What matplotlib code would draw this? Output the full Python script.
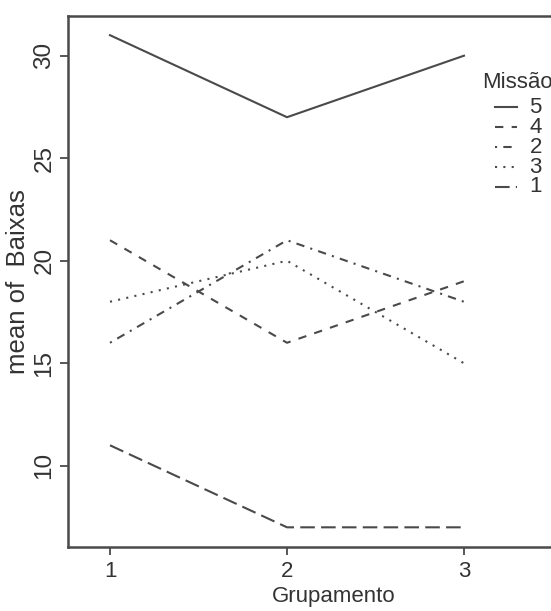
import numpy as np
import matplotlib
matplotlib.use("Agg")
import matplotlib.pyplot as plt

# dados (media de Baixas por Grupamento e Missao)
grupamento = [1, 2, 3]
missao = ["5", "4", "2", "3", "1"]
baixas_m5 = [31, 27, 30]
baixas_m4 = [21, 16, 19]
baixas_m2 = [16, 21, 18]
baixas_m3 = [18, 20, 15]
baixas_m1 = [11, 7, 7]
series = [baixas_m5, baixas_m4, baixas_m2, baixas_m3, baixas_m1]

# estilos tipo R: solid, dashed, dotdash, dotted, longdash
estilos = ["-", (0, (4, 4)), (0, (1, 3, 4, 3)), (0, (1, 3)), (0, (7, 3))]

COR = "#4a4a4a"
TXT = "#333333"
plt.rcParams["font.family"] = ["Liberation Sans", "DejaVu Sans"]

fig = plt.figure(figsize=(5.51, 6.11), dpi=100)
ax = fig.add_axes([68/551, 64/611, (600-68)/551, (547-15.5)/611])

for vals, ls in zip(series, estilos):
    ax.plot(grupamento, vals, color=COR, lw=1.5, linestyle=ls)

ax.set_xlim(1 - 42/177, 1 + (600-110)/177)
ax.set_ylim(6.04, 31.96)
ax.set_xticks(grupamento)
ax.set_xticklabels([str(g) for g in grupamento])
ax.set_yticks([10, 15, 20, 25, 30])
ax.tick_params(axis="both", direction="out", length=6, width=1.3, colors=COR,
               labelcolor=TXT)
ax.tick_params(axis="x", labelsize=16, pad=4)
ax.tick_params(axis="y", labelsize=17.5, labelrotation=90, pad=3)
for lbl in ax.get_yticklabels():
    lbl.set_va("center")
for sp in ax.spines.values():
    sp.set_color(COR)
    sp.set_linewidth(1.8)

ax.set_xlabel("Grupamento", fontsize=16, color=TXT, labelpad=3)
ax.set_ylabel("mean of  Baixas", fontsize=18.5, color=TXT)
ax.yaxis.set_label_coords(-0.071, 0.5)

# legenda manual, como no interaction.plot do R
ax.text(3.10, 28.69, "Missão", fontsize=16, color=TXT, va="center", ha="left")
y = 27.48
for nome, ls in zip(missao, estilos):
    ax.plot([3.175, 3.30], [y, y], color=COR, lw=1.5, linestyle=ls, clip_on=False)
    ax.text(3.37, y, nome, fontsize=16, color=TXT, va="center", ha="left")
    y -= 0.97

fig.savefig("out.png", dpi=100)
